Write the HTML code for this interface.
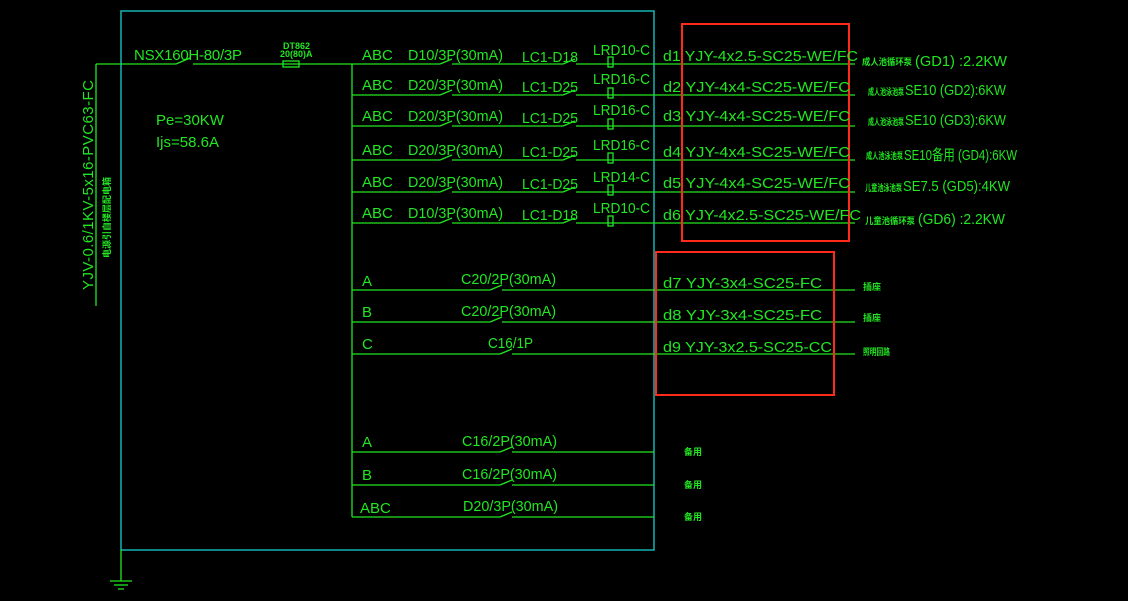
<!DOCTYPE html>
<html><head><meta charset="utf-8"><style>
html,body{margin:0;padding:0;background:#000;width:1128px;height:601px;overflow:hidden}
svg{display:block}
text{font-family:"Liberation Sans","Noto Sans CJK SC",sans-serif;fill:#22e622;font-size:15px}
.s{font-size:9px;font-weight:bold}
</style></head><body>
<svg width="1128" height="601" viewBox="0 0 1128 601">
<rect x="121" y="11" width="533" height="539" fill="none" stroke="#14b4b4" stroke-width="1.5"/>
<g stroke="#22e622" stroke-width="1.3" fill="none">
<line x1="96" y1="64" x2="96" y2="306"/>
<line x1="96" y1="64" x2="176" y2="64"/><line x1="193" y1="64" x2="352" y2="64"/>
<line x1="176" y1="64" x2="190" y2="58"/>
<rect x="283" y="61" width="16" height="6"/>
<line x1="352" y1="64" x2="352" y2="517"/>
<line x1="110" y1="581" x2="132" y2="581"/><line x1="114" y1="585" x2="128" y2="585"/><line x1="118" y1="589" x2="124" y2="589"/><line x1="121" y1="550" x2="121" y2="581"/>
</g>
<g stroke="#22e622" stroke-width="1.3" fill="none">
<path d="M352 64H440M452 64H563M576 64H855"/><path d="M440 64l12-5M563 64l12-5"/><rect x="608" y="57" width="5" height="10"/>
<path d="M352 95H440M452 95H563M576 95H855"/><path d="M440 95l12-5M563 95l12-5"/><rect x="608" y="88" width="5" height="10"/>
<path d="M352 126H440M452 126H563M576 126H855"/><path d="M440 126l12-5M563 126l12-5"/><rect x="608" y="119" width="5" height="10"/>
<path d="M352 160H440M452 160H563M576 160H855"/><path d="M440 160l12-5M563 160l12-5"/><rect x="608" y="153" width="5" height="10"/>
<path d="M352 192H440M452 192H563M576 192H855"/><path d="M440 192l12-5M563 192l12-5"/><rect x="608" y="185" width="5" height="10"/>
<path d="M352 223H440M452 223H563M576 223H855"/><path d="M440 223l12-5M563 223l12-5"/><rect x="608" y="216" width="5" height="10"/>
<path d="M352 290H490M502 290H855M490 290l12-5"/>
<path d="M352 322H490M502 322H855M490 322l12-5"/>
<path d="M352 354H500M512 354H855M500 354l12-5"/>
<path d="M352 452H500M512 452H654M500 452l12-5"/>
<path d="M352 485H500M512 485H654M500 485l12-5"/>
<path d="M352 517H500M512 517H654M500 517l12-5"/>
</g>
<g stroke="#ff2a1a" stroke-width="2" fill="none">
<rect x="682" y="24" width="167" height="217"/>
<rect x="656" y="252" width="178" height="143"/>
</g>
<text x="134" y="60" textLength="108">NSX160H-80/3P</text>
<text x="283" y="49" class="s" font-weight="normal">DT862</text><text x="280" y="57" class="s" font-weight="normal">20(80)A</text>
<text x="156" y="125" font-size="16">Pe=30KW</text>
<text x="156" y="147" font-size="16">Ijs=58.6A</text>
<text transform="translate(93,290) rotate(-90)" textLength="210">YJV-0.6/1KV-5x16-PVC63-FC</text>
<text transform="translate(110,258) rotate(-90)" class="s">电源引自楼层配电箱</text>
<g lengthAdjust="spacingAndGlyphs">
<text x="362" y="60">ABC</text><text x="408" y="60" textLength="95" lengthAdjust="spacingAndGlyphs">D10/3P(30mA)</text><text x="522" y="62" textLength="56" lengthAdjust="spacingAndGlyphs">LC1-D18</text><text x="593" y="55" textLength="57" lengthAdjust="spacingAndGlyphs">LRD10-C</text><text x="663" y="61" font-size="16" textLength="195" lengthAdjust="spacingAndGlyphs">d1 YJY-4x2.5-SC25-WE/FC</text>
<text x="362" y="90">ABC</text><text x="408" y="90" textLength="95" lengthAdjust="spacingAndGlyphs">D20/3P(30mA)</text><text x="522" y="92" textLength="56" lengthAdjust="spacingAndGlyphs">LC1-D25</text><text x="593" y="84" textLength="57" lengthAdjust="spacingAndGlyphs">LRD16-C</text><text x="663" y="92" font-size="16" textLength="187" lengthAdjust="spacingAndGlyphs">d2 YJY-4x4-SC25-WE/FC</text>
<text x="362" y="121">ABC</text><text x="408" y="121" textLength="95" lengthAdjust="spacingAndGlyphs">D20/3P(30mA)</text><text x="522" y="123" textLength="56" lengthAdjust="spacingAndGlyphs">LC1-D25</text><text x="593" y="115" textLength="57" lengthAdjust="spacingAndGlyphs">LRD16-C</text><text x="663" y="121" font-size="16" textLength="187" lengthAdjust="spacingAndGlyphs">d3 YJY-4x4-SC25-WE/FC</text>
<text x="362" y="155">ABC</text><text x="408" y="155" textLength="95" lengthAdjust="spacingAndGlyphs">D20/3P(30mA)</text><text x="522" y="157" textLength="56" lengthAdjust="spacingAndGlyphs">LC1-D25</text><text x="593" y="150" textLength="57" lengthAdjust="spacingAndGlyphs">LRD16-C</text><text x="663" y="157" font-size="16" textLength="187" lengthAdjust="spacingAndGlyphs">d4 YJY-4x4-SC25-WE/FC</text>
<text x="362" y="187">ABC</text><text x="408" y="187" textLength="95" lengthAdjust="spacingAndGlyphs">D20/3P(30mA)</text><text x="522" y="189" textLength="56" lengthAdjust="spacingAndGlyphs">LC1-D25</text><text x="593" y="182" textLength="57" lengthAdjust="spacingAndGlyphs">LRD14-C</text><text x="663" y="188" font-size="16" textLength="187" lengthAdjust="spacingAndGlyphs">d5 YJY-4x4-SC25-WE/FC</text>
<text x="362" y="218">ABC</text><text x="408" y="218" textLength="95" lengthAdjust="spacingAndGlyphs">D10/3P(30mA)</text><text x="522" y="220" textLength="56" lengthAdjust="spacingAndGlyphs">LC1-D18</text><text x="593" y="213" textLength="57" lengthAdjust="spacingAndGlyphs">LRD10-C</text><text x="663" y="220" font-size="16" textLength="198" lengthAdjust="spacingAndGlyphs">d6 YJY-4x2.5-SC25-WE/FC</text>
</g>
<text x="862" y="65" class="s" textLength="50" lengthAdjust="spacingAndGlyphs">成人池循环泵</text><text x="915" y="66" font-size="16" textLength="92" lengthAdjust="spacingAndGlyphs">(GD1) :2.2KW</text>
<text x="868" y="95" class="s" textLength="36" lengthAdjust="spacingAndGlyphs">成人池泳池泵</text><text x="905" y="95" font-size="16" textLength="101" lengthAdjust="spacingAndGlyphs">SE10 (GD2):6KW</text>
<text x="868" y="125" class="s" textLength="36" lengthAdjust="spacingAndGlyphs">成人池泳池泵</text><text x="905" y="125" font-size="16" textLength="101" lengthAdjust="spacingAndGlyphs">SE10 (GD3):6KW</text>
<text x="866" y="159" class="s" textLength="37" lengthAdjust="spacingAndGlyphs">成人池泳池泵</text><text x="904" y="160" font-size="16" textLength="113" lengthAdjust="spacingAndGlyphs">SE10备用 (GD4):6KW</text>
<text x="865" y="191" class="s" textLength="37" lengthAdjust="spacingAndGlyphs">儿童池泳池泵</text><text x="903" y="191" font-size="16" textLength="107" lengthAdjust="spacingAndGlyphs">SE7.5 (GD5):4KW</text>
<text x="865" y="224" class="s" textLength="50" lengthAdjust="spacingAndGlyphs">儿童池循环泵</text><text x="918" y="224" font-size="16" textLength="87" lengthAdjust="spacingAndGlyphs">(GD6) :2.2KW</text>
<text x="362" y="286">A</text><text x="461" y="284" textLength="95" lengthAdjust="spacingAndGlyphs">C20/2P(30mA)</text><text x="663" y="288" font-size="16" textLength="159" lengthAdjust="spacingAndGlyphs">d7 YJY-3x4-SC25-FC</text>
<text x="362" y="317">B</text><text x="461" y="316" textLength="95" lengthAdjust="spacingAndGlyphs">C20/2P(30mA)</text><text x="663" y="320" font-size="16" textLength="159" lengthAdjust="spacingAndGlyphs">d8 YJY-3x4-SC25-FC</text>
<text x="362" y="349">C</text><text x="488" y="348" textLength="45" lengthAdjust="spacingAndGlyphs">C16/1P</text><text x="663" y="352" font-size="16" textLength="169" lengthAdjust="spacingAndGlyphs">d9 YJY-3x2.5-SC25-CC</text>
<text x="863" y="290" class="s">插座</text><text x="863" y="321" class="s">插座</text><text x="863" y="355" class="s" textLength="27" lengthAdjust="spacingAndGlyphs">照明回路</text>
<text x="362" y="447">A</text><text x="462" y="446" textLength="95" lengthAdjust="spacingAndGlyphs">C16/2P(30mA)</text>
<text x="362" y="480">B</text><text x="462" y="479" textLength="95" lengthAdjust="spacingAndGlyphs">C16/2P(30mA)</text>
<text x="360" y="513">ABC</text><text x="463" y="511" textLength="95" lengthAdjust="spacingAndGlyphs">D20/3P(30mA)</text>
<text x="684" y="455" class="s">备用</text><text x="684" y="488" class="s">备用</text><text x="684" y="520" class="s">备用</text>
</svg>
</body></html>
